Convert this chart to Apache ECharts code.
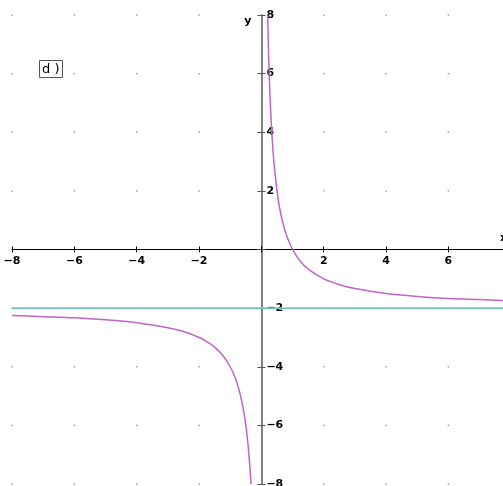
<!DOCTYPE html>
<html><head><meta charset="utf-8">
<script src="https://cdn.jsdelivr.net/npm/echarts@6/dist/echarts.min.js"></script>
<style>html,body{margin:0;padding:0;background:#fff}#c{width:503px;height:486px}</style>
</head><body><div id="c"></div>
<script>
// Values
var rightBranchX = [0.2, 0.22, 0.25, 0.28, 0.3, 0.35, 0.4, 0.5, 0.6, 0.7, 0.8, 1, 1.25, 1.5, 2, 2.5, 3, 4, 5, 6, 7, 7.75];
var rightBranchY = [8, 7.1, 6, 5.15, 4.67, 3.71, 3, 2, 1.33, 0.86, 0.5, 0, -0.4, -0.67, -1, -1.2, -1.33, -1.5, -1.6, -1.67, -1.71, -1.74];
var leftBranchX = [-8, -7, -6, -5, -4, -3, -2.5, -2, -1.75, -1.5, -1.25, -1, -0.85, -0.75, -0.65, -0.55, -0.5, -0.45, -0.4, -0.36, -0.333];
var leftBranchY = [-2.25, -2.29, -2.33, -2.4, -2.5, -2.67, -2.8, -3, -3.14, -3.33, -3.6, -4, -4.35, -4.67, -5.08, -5.64, -6, -6.44, -7, -7.56, -8];
var asymptoteX = [-8, 7.75];
var asymptoteY = [-2, -2];
var xTicks = [-8, -6, -4, -2, 0, 2, 4, 6];
var yTicks = [-8, -6, -4, -2, 0, 2, 4, 6, 8];

var W = 503, H = 486, GL = 12, GR = 0, GT = 15, GB = 2;
var XMIN = -8, XMAX = 7.75, YMIN = -8, YMAX = 8;
var plotW = W - GL - GR, plotH = H - GT - GB;
var yAxisOffset = -(0 - XMIN) / (XMAX - XMIN) * plotW;   // move y axis to x = 0
var xAxisOffset = -(0 - YMIN) / (YMAX - YMIN) * plotH;   // move x axis to y = 0

function pairs(xs, ys){ return xs.map(function(x,i){ return [x, ys[i]]; }); }
var gridDots = [];
xTicks.forEach(function(x){ yTicks.forEach(function(y){ if (x!==0 && y!==0) gridDots.push([x,y]); }); });
function fmt(v){ if (v===0) return ''; return v<0 ? '\u2212'+Math.abs(v) : String(v); }
var lblStyle = {color:'#000', fontFamily:'DejaVu Sans', fontWeight:'bold', fontSize:11};

var chart = echarts.init(document.getElementById('c'));
chart.setOption({
  animation:false,
  backgroundColor:'#fff',
  title:{text:'d )', left:39, top:60, padding:[3,3,2,3], borderColor:'#555', borderWidth:1,
    textStyle:{fontFamily:'DejaVu Sans', fontWeight:'normal', fontSize:13, color:'#000'}},
  grid:{left:GL, right:GR, top:GT, bottom:GB, outerBoundsMode:'none', containLabel:false},
  xAxis:[{type:'value', min:XMIN, max:XMAX, interval:2, position:'bottom', offset:xAxisOffset,
    axisLine:{onZero:false, lineStyle:{color:'#000', width:1}},
    axisTick:{show:true, length:3, lineStyle:{color:'#000'}},
    axisLabel:Object.assign({formatter:fmt, margin:6, showMaxLabel:false}, lblStyle),
    splitLine:{show:false},
    name:'x', nameLocation:'end', nameGap:-3,
    nameTextStyle:{color:'#000', fontFamily:'DejaVu Sans', fontWeight:'bold', fontSize:11, verticalAlign:'bottom', padding:[0,0,6,0]}},
   {type:'value', min:XMIN, max:XMAX, interval:2, position:'bottom', offset:xAxisOffset,
    axisLine:{show:false, onZero:false},
    axisTick:{show:true, inside:true, length:3, lineStyle:{color:'#000'}},
    axisLabel:{show:false}, splitLine:{show:false}}],
  yAxis:[{type:'value', min:YMIN, max:YMAX, interval:2, position:'left', offset:yAxisOffset,
    axisLine:{onZero:false, lineStyle:{color:'#808080', width:2}},
    axisTick:{show:true, length:4, lineStyle:{color:'#555'}},
    axisLabel:Object.assign({formatter:fmt, inside:true, margin:5}, lblStyle),
    splitLine:{show:false},
    name:'y', nameLocation:'end', nameGap:-12,
    nameTextStyle:{color:'#000', fontFamily:'DejaVu Sans', fontWeight:'bold', fontSize:11, align:'right', padding:[0,10,0,0]}},
   {type:'value', min:YMIN, max:YMAX, interval:2, position:'left', offset:yAxisOffset,
    axisLine:{show:false, onZero:false},
    axisTick:{show:true, inside:true, length:4, lineStyle:{color:'#555'}},
    axisLabel:{show:false}, splitLine:{show:false}}],
  series:[
    {type:'scatter', data:gridDots, symbol:'rect', symbolSize:1.5, itemStyle:{color:'#888'}, silent:true},
    {type:'line', data:pairs(asymptoteX, asymptoteY), showSymbol:false, lineStyle:{color:'#79c2c2', width:2}},
    {type:'line', data:pairs(leftBranchX, leftBranchY), smooth:0.3, showSymbol:false, lineStyle:{color:'#c064c8', width:1.5}},
    {type:'line', data:pairs(rightBranchX, rightBranchY), smooth:0.3, showSymbol:false, lineStyle:{color:'#c064c8', width:1.5}}
  ]
});
</script></body></html>
